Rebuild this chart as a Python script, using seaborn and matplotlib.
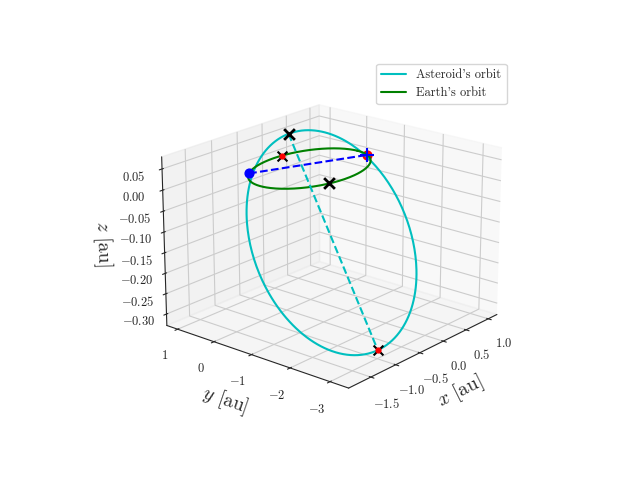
import matplotlib
matplotlib.use("Agg")
import matplotlib.pyplot as plt
import numpy as np
import seaborn as sns

sns.set_style("white")
plt.rcParams["font.family"] = "serif"
plt.rcParams["font.serif"] = ["cmr10", "DejaVu Serif"]
plt.rcParams["mathtext.fontset"] = "cm"
plt.rcParams["axes.formatter.use_mathtext"] = True

# orbit parameters
earth_radius = 1.0
ast_center = [-0.40, -1.08, -0.125]
ast_major = [-0.68, -2.03, -0.175]   # half of major axis vector
ast_minor = [1.15, -0.42, 0.03]      # half of minor axis vector

# marked points
earth_pos = [-0.70, 0.71, 0.0]
target_pos = [0.94, -0.34, 0.0]
ast_top = [0.28, 0.95, 0.05]
ast_bottom = [-1.08, -3.11, -0.30]
earth_cross_front = [-0.34, -0.94, 0.0]
earth_cross_back = [0.17, 0.98, 0.0]

t = np.linspace(0, 2 * np.pi, 300)
c, M, m = map(np.array, (ast_center, ast_major, ast_minor))
ast = c[:, None] + np.outer(M, np.cos(t)) + np.outer(m, np.sin(t))

fig = plt.figure(figsize=(6.4, 4.8), dpi=100)
ax = fig.add_subplot(projection="3d")
ax.plot(ast[0], ast[1], ast[2], color="c", label="Asteroid's orbit")
ax.plot(earth_radius * np.cos(t), earth_radius * np.sin(t), 0 * t, color="g", label="Earth's orbit")

ax.plot(*zip(earth_pos, target_pos), "b--")
ax.plot(*zip(ast_top, ast_bottom), "c--")
ax.scatter(*earth_pos, color="b", s=40, depthshade=False)
ax.scatter(*target_pos, color="r", s=40, depthshade=False)
ax.scatter(*target_pos, color="b", marker="+", s=90, depthshade=False)
for p in (ast_top, earth_cross_front):
    ax.scatter(*p, color="k", marker="x", s=60, linewidths=2, depthshade=False)
for p in (earth_cross_back, ast_bottom):
    ax.scatter(*p, color="k", marker="x", s=50, linewidths=1.5, depthshade=False)
    ax.scatter(*p, color="r", s=12, depthshade=False)

ax.set_xlabel("$x$ [au]", fontsize=14)
ax.set_ylabel("$y$ [au]", fontsize=14)
ax.set_zlabel("$z$ [au]", fontsize=14)
ax.set_zticks([-0.30, -0.25, -0.20, -0.15, -0.10, -0.05, 0.00, 0.05])
ax.set_xticks([-1.5, -1.0, -0.5, 0.0, 0.5, 1.0])
ax.set_yticks([-3, -2, -1, 0, 1])
ax.tick_params(labelsize=9)
ax.view_init(elev=20, azim=-140)
ax.legend(loc="upper right", fontsize=9)
fig.savefig("out.png")
